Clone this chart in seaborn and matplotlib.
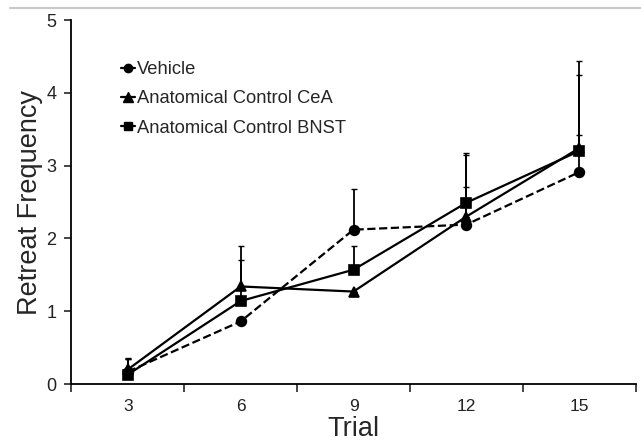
import matplotlib
matplotlib.use("Agg")
import matplotlib.pyplot as plt
import matplotlib.lines as mlines
import seaborn as sns
import pandas as pd
import numpy as np

# Data
trials = ["3", "6", "9", "12", "15"]
groups = ["Vehicle", "Anatomical Control CeA", "Anatomical Control BNST"]

vehicle = [0.17, 0.86, 2.12, 2.19, 2.91]
cea = [0.20, 1.34, 1.27, 2.30, 3.24]
bnst = [0.13, 1.14, 1.57, 2.49, 3.20]

# upper error bars (SEM)
vehicle_err = [0.17, 0.0, 0.56, 0.51, 0.51]
cea_err = [0.16, 0.56, 0.0, 0.85, 1.20]
bnst_err = [0.22, 0.56, 0.33, 0.69, 1.05]

means = [vehicle, cea, bnst]
errs = [vehicle_err, cea_err, bnst_err]


def build_frame():
    rows = []
    for g, vals in zip(groups, means):
        for t, v in zip(trials, vals):
            rows.append({"Trial": t, "group": g, "freq": v})
    return pd.DataFrame(rows)


def main():
    df = build_frame()

    sns.set_style("white")
    plt.rcParams["font.family"] = ["Liberation Sans", "DejaVu Sans"]

    fig = plt.figure(figsize=(6.41, 4.42), dpi=100)
    ax = fig.add_axes([0.1115, 0.1312, 0.88, 0.8235])

    # error bars first, so markers sit on top
    for vals, e in zip(means, errs):
        ax.errorbar(np.arange(len(trials)), vals,
                    yerr=[np.zeros(len(e)), e],
                    fmt="none", ecolor="black", elinewidth=1.3,
                    capsize=2, capthick=1.0, zorder=2)

    sns.pointplot(data=df, x="Trial", y="freq", hue="group",
                  order=trials, hue_order=groups,
                  palette=["black"] * 3, markers=["o", "^", "s"],
                  linestyles=["--", "-", "-"], errorbar=None,
                  markersize=7, linewidth=1.6, ax=ax, legend=False)

    # legend with short handles, as in the original
    handles = [
        mlines.Line2D([], [], color="black", marker="o", markersize=6, lw=1.6),
        mlines.Line2D([], [], color="black", marker="^", markersize=7, lw=1.6),
        mlines.Line2D([], [], color="black", marker="s", markersize=6, lw=1.6),
    ]
    ax.legend(handles, groups, loc="upper left", bbox_to_anchor=(0.188, 0.862),
              bbox_transform=fig.transFigure, frameon=False, fontsize=13.2,
              handlelength=0.8, handletextpad=0.1, labelspacing=0.67,
              borderpad=0, borderaxespad=0)

    ax.set_ylim(0, 5)
    ax.set_xlim(-0.5, len(trials) - 0.5)
    ax.set_yticks([0, 1, 2, 3, 4, 5])

    # Excel style: tick marks between categories, labels centred
    ax.set_xticks(np.arange(-0.5, len(trials)), minor=True)
    ax.tick_params(axis="x", which="major", length=0, pad=11, labelsize=12.5)
    ax.tick_params(axis="x", which="minor", length=6, width=1.2,
                   direction="out", bottom=True)
    ax.tick_params(axis="y", length=5, width=1.2, direction="out", left=True,
                   pad=6, labelsize=13, labelcolor="#222222")
    ax.tick_params(axis="x", labelcolor="#222222")

    for side in ["top", "right"]:
        ax.spines[side].set_visible(False)
    for side in ["left", "bottom"]:
        ax.spines[side].set_color("black")
        ax.spines[side].set_linewidth(1.3)

    ax.set_xlabel("Trial", fontsize=19.5, labelpad=1.5)
    ax.set_ylabel("Retreat Frequency", fontsize=19.5, labelpad=2)

    # thin grey rule at the very top of the original image
    fig.add_artist(mlines.Line2D([0.015, 1.0], [0.982, 0.982],
                                 transform=fig.transFigure,
                                 color="#c8c8c8", lw=1.5))

    fig.savefig("out.png", dpi=100, facecolor="white")


if __name__ == "__main__":
    main()
